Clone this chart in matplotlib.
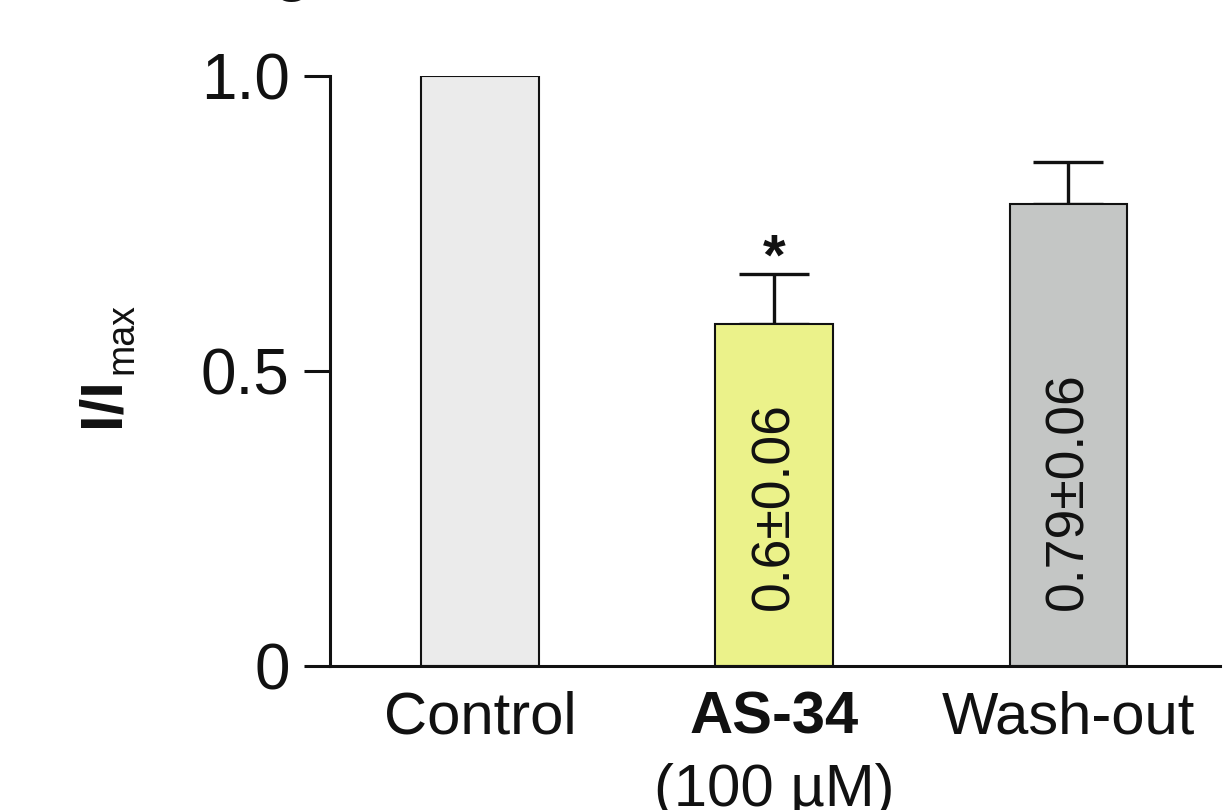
import matplotlib
matplotlib.use('Agg')
import matplotlib.pyplot as plt

plt.rcParams['font.family'] = ['Liberation Sans', 'DejaVu Sans']

# data
groups = ['Control', 'AS-34', 'Wash-out']
means = [1.0, 0.58, 0.783]
errs = [0.0, 0.085, 0.071]
inside = ['', '0.6±0.06', '0.79±0.06']
colors = ['#ebebeb', '#ebf28a', '#c4c6c5']
yticks = [0, 0.5, 1.0]
yticklabels = ['0', '0.5', '1.0']

fig = plt.figure(figsize=(12.28, 8.10), dpi=100)
ax = fig.add_axes([330/1228, 1-666/810, (1220-330)/1228, (666-76)/810])

x = list(range(len(groups)))
ax.bar(x, means, width=0.40, color=colors, edgecolor='#111111', linewidth=1.5, zorder=2)
for i in x:
    if errs[i] > 0:
        ax.errorbar(i, means[i], yerr=[[0], [errs[i]]], fmt='none', ecolor='#111111',
                    elinewidth=2.4, capsize=25, capthick=2.4, zorder=1)
    if inside[i]:
        ax.text(i, 0.095, inside[i], rotation=90, ha='center', va='bottom',
                fontsize=38.5, color='#111111')

# significance mark
ax.text(1, 0.663, '*', ha='center', va='baseline',
        fontsize=42, fontweight='bold', color='#111111')

ax.set_xlim(-0.51, 2.515)
ax.set_ylim(0, 1.0)
ax.set_yticks(yticks)
ax.set_yticklabels(yticklabels, fontsize=46, color='#111111')
ax.tick_params(axis='y', length=19, width=2.2, pad=10, color='#111111')
ax.set_xticks(x)
ax.set_xticklabels(groups, fontsize=43, color='#111111')
ax.tick_params(axis='x', length=0, pad=18)
ax.get_xticklabels()[1].set_fontweight('bold')
ax.text(1, -0.165, '(100 µM)', ha='center', va='top', fontsize=43,
        color='#111111', transform=ax.transData, clip_on=False)

for s in ['top', 'right']:
    ax.spines[s].set_visible(False)
for s in ['left', 'bottom']:
    ax.spines[s].set_linewidth(2.2)
    ax.spines[s].set_color('#111111')

# y label: bold I/I with a regular subscript
fig.text(118/1228, 1-427/810, 'I/I', rotation=90, rotation_mode='anchor',
         ha='left', va='baseline', fontsize=43, fontweight='bold', color='#111111')
fig.text(132/1228, 1-374/810, 'max', rotation=90, rotation_mode='anchor',
         ha='left', va='baseline', fontsize=27, color='#111111')

# cut-off panel letter at the top edge
fig.text(292/1228, 1+10/810, 'g', ha='center', va='baseline', fontsize=43,
         fontweight='bold', color='#111111')

fig.savefig('out.png', dpi=100)
